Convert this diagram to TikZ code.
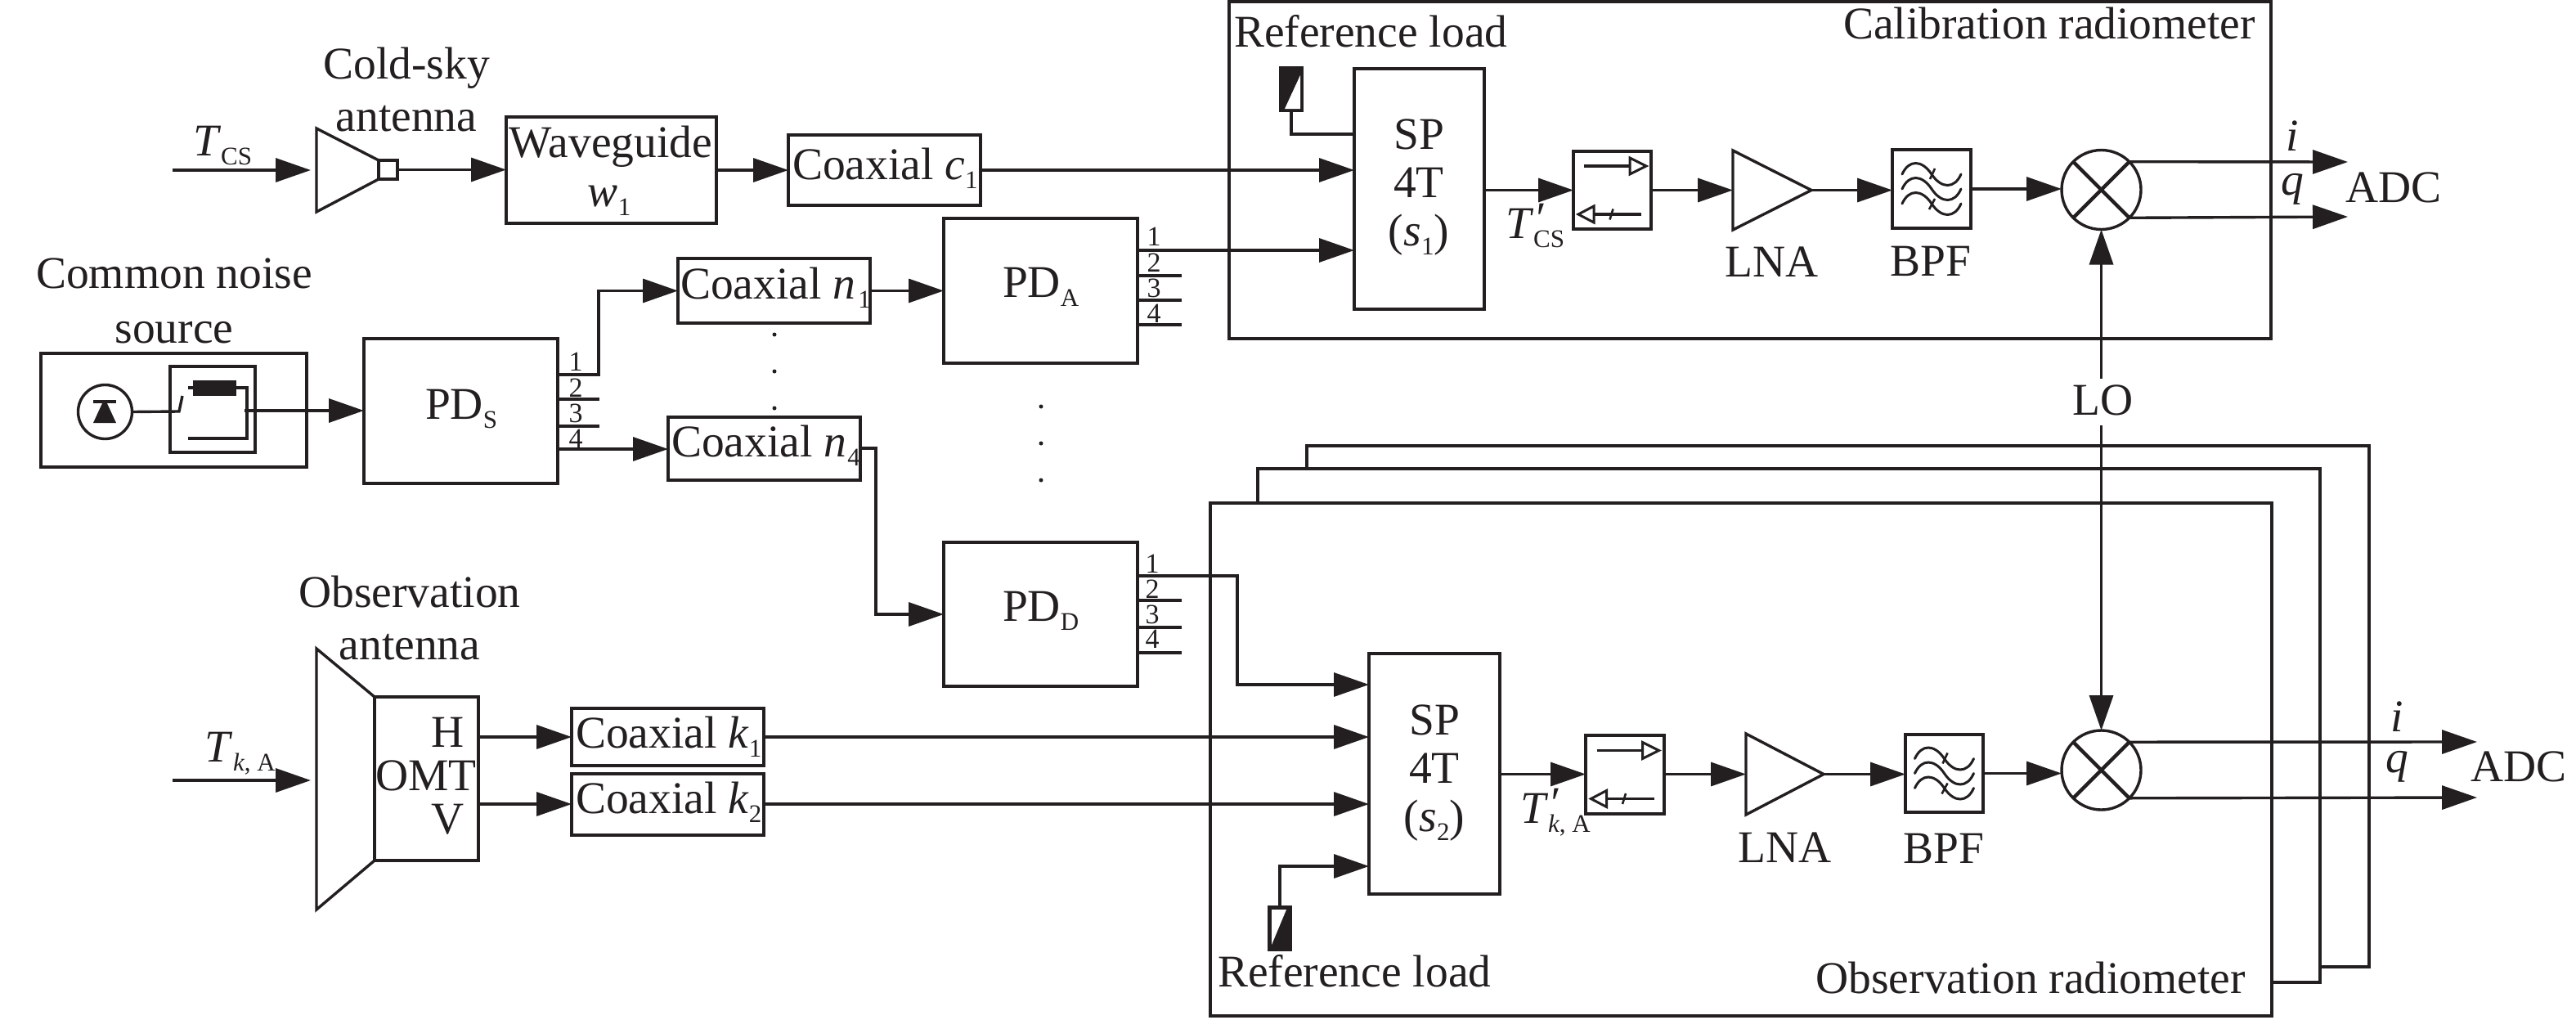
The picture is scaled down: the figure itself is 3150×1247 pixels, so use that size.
\documentclass[tikz,border=0pt]{standalone}
\usepackage{fontspec}
\setmainfont{Liberation Serif}
\usetikzlibrary{arrows.meta}
\definecolor{ink}{HTML}{231F20}
\newcommand{\mainsz}{\fontsize{55.5}{60}\selectfont}
\newcommand{\subsz}{\fontsize{31}{36}\selectfont}
\newcommand{\portsz}{\fontsize{34}{36}\selectfont}
\newcommand{\lowr}[1]{\raisebox{-11pt}{\subsz #1}}
\newcommand{\primed}[1]{\textit{T}\rlap{\raisebox{6pt}{\textit{′}}}\lowr{#1}}
\newcommand{\blockat}[5]{\node[blockbox,minimum width={(#4-#2)*1pt},minimum height={(#5-#3)*1pt}] (#1) at ({(#2+#4)/2},{(#3+#5)/2}) {};}
\tikzset{
 x=1pt,y=-1pt,
 line/.style={draw=ink,line width=3.4pt,line join=miter},
 blockbox/.style={line,rectangle,inner sep=0pt,outer sep=0pt},
 sig/.style={line,-{Triangle[length=43pt,width=29pt,fill=ink]}},
 plain/.style={line},
 lab/.style={anchor=base,inner sep=0pt,outer sep=0pt,text=ink,font=\mainsz},
 labw/.style={lab,anchor=base west},
 labe/.style={lab,anchor=base east},
 portlab/.style={anchor=base,inner sep=0pt,outer sep=0pt,text=ink,font=\portsz},
 mixer/.style={line,circle,minimum size=97pt,inner sep=0pt,outer sep=0pt},
 dotmark/.style={circle,fill=ink,minimum size=5pt,inner sep=0pt,outer sep=0pt},
 isosym/.pic={
  \draw[draw=ink,line width=3.2pt] (-34.5,-29.5)--(21.5,-29.5);
  \draw[draw=ink,line width=3pt,fill=white,line join=miter] (21.5,-39.5)--(21.5,-19.5)--(41.5,-29.5)--cycle;
  \draw[draw=ink,line width=3.2pt] (35.5,29.5)--(-22.5,29.5);
  \draw[draw=ink,line width=3pt,fill=white,line join=miter] (-22.5,19.5)--(-22.5,39.5)--(-41.5,29.5)--cycle;
  \draw[draw=ink,line width=2.6pt] (1,23)--(-3,36);
 },
 filtersym/.pic={
  \foreach \c in {-18,0,18}{
   \draw[draw=ink,line width=3pt,line cap=round] (-36,\c) .. controls (-28,\c-18) and (-12,\c-18) .. (0,\c) .. controls (12,\c+18) and (28,\c+18) .. (36,\c);
  }
  \draw[draw=ink,line width=2.6pt] (4,-25)--(-2,-12);
  \draw[draw=ink,line width=2.6pt] (4,12)--(-3,25);
 }
}
\begin{document}
\begin{tikzpicture}
\useasboundingbox (0,0) rectangle (3150,1247);
\fill[white] (0,0) rectangle (3150,1247);

% radiometer frames, back to front
\draw[line] (1598,573) -- (1598,545) -- (2897,545) -- (2897,1182) -- (2837,1182);
\draw[line] (1538,615) -- (1538,573) -- (2837,573) -- (2837,1201) -- (2778,1201);
\blockat{obs}{1480}{615}{2778}{1242}
\blockat{cal}{1503}{2}{2777}{414}

% cold-sky antenna chain
\draw[line] (387,157) -- (463,196) -- (463,219) -- (387,259) -- cycle;
\coordinate (tcsstart) at (211,208);
\coordinate (csatip) at (380,208);
\draw[sig] (tcsstart) -- (csatip);
\blockat{horn}{463}{196}{486}{219}
\blockat{wg}{619}{143}{876}{273}
\blockat{cc}{964}{165}{1199}{251}
\draw[sig] (horn.east) -- (horn.east -| wg.west);
\draw[sig] (wg.east) -- (wg.east -| cc.west);

% noise source
\blockat{noise}{50}{432}{375}{571}
\blockat{inner}{208}{448}{312}{553}
\node[line,circle,minimum size=66pt,inner sep=0pt,outer sep=0pt] (dio) at (128.5,503.5) {};
\fill[ink] (126,491) -- (130,491) -- (142,517) -- (114,517) -- cycle;
\draw[line] (114,491) -- (142,491);
\coordinate (sw) at (219,503);
\draw[plain] (dio.east) -- (sw) -- (223,484);
\draw[plain] (230,474) -- (236,474);
\fill[ink] (236,465) rectangle (289,484);
\draw[plain] (289,474) -- (302,474) -- (302,536) -- (230,536);
\coordinate (nout) at (299,502);

% power dividers
\blockat{pds}{445}{414}{682}{591}
\blockat{pda}{1154}{267}{1391}{444}
\blockat{pdd}{1154}{663}{1391}{839}
\draw[sig] (nout) -- (nout -| pds.west);

% PD_S ports
\coordinate (ps1) at (682,458); \coordinate (ps2) at (682,488);
\coordinate (ps3) at (682,521); \coordinate (ps4) at (682,549);
\draw[plain] (ps2) -- ++(51,0);
\draw[plain] (ps3) -- ++(51,0);
% coaxial n
\blockat{cn1}{829}{316}{1064}{395}
\blockat{cn4}{817}{510}{1052}{587}
\coordinate (ps1r) at (732,458);
\draw[sig] (ps1) -- (ps1r) |- (cn1.west);
\draw[sig] (ps4) -- (ps4 -| cn4.west);
\draw[sig] (cn1.east) -- (cn1.east -| pda.west);
\coordinate (cn4r) at (1071,548);
\draw[sig] (cn4r -| cn4.east) -- (cn4r) |- (pdd.west);
\node[dotmark] (d1) at (947,409) {};
\node[dotmark] (d2) at (947,454) {};
\node[dotmark] (d3) at (947,499) {};
\node[dotmark] (d4) at (1273,497) {};
\node[dotmark] (d5) at (1273,542) {};
\node[dotmark] (d6) at (1273,587) {};

% PD_A / PD_D ports
\coordinate (pa1) at (1391,306);
\draw[plain] (1391,337) -- (1445,337);
\draw[plain] (1391,367) -- (1445,367);
\draw[plain] (1391,397) -- (1445,397);
\coordinate (pd1) at (1391,704);
\draw[plain] (1391,734) -- (1445,734);
\draw[plain] (1391,767) -- (1445,767);
\draw[plain] (1391,798) -- (1445,798);

% calibration radiometer
\blockat{sa}{1656}{84}{1815}{378}
\draw[sig] (cc.east) -- (cc.east -| sa.west);
\draw[sig] (pa1) -- (pa1 -| sa.west);
\blockat{refa}{1566}{83}{1592}{135}
\fill[ink] (1566,83) rectangle (1592,135);
\fill[white] (1571,133) -- (1590,92) -- (1590,133) -- cycle;
\coordinate (sarefin) at (1656,164);
\draw[plain] (refa.south) |- (sarefin);
\blockat{isa}{1924}{185}{2019}{280}
\pic at (isa.center) {isosym};
\coordinate (lnaain) at (2119,232.5);
\coordinate (lnaaout) at (2215,232.5);
\draw[line] (2119,184) -- (lnaaout) -- (2119,281) -- cycle;
\blockat{bpa}{2314}{183}{2410}{279}
\pic at (bpa.center) {filtersym};
\node[mixer] (mxa) at (2569.5,232) {};
\draw[draw=ink,line width=4.4pt] (mxa.north west) -- (mxa.south east);
\draw[draw=ink,line width=4.4pt] (mxa.south west) -- (mxa.north east);
\coordinate (saout) at (1815,232.5);
\draw[sig] (saout) -- (saout -| isa.west);
\draw[sig] (isa.east |- saout) -- (lnaain);
\draw[sig] (lnaaout) -- (lnaaout -| bpa.west);
\draw[sig] (bpa.east) -- (bpa.east -| mxa.west);
\coordinate (itipa) at (2871,198);
\coordinate (qtipa) at (2871,265);
\draw[sig] (mxa.north east) -- (itipa);
\draw[sig] (mxa.south east) -- (qtipa);

% LO
\coordinate (lotop) at (2569.5,463);
\coordinate (lobot) at (2569.5,520);
\node[lab] (lo) at (2571.5,507) {LO};
\node[mixer] (mxb) at (2569.5,941.5) {};
\draw[draw=ink,line width=4.4pt] (mxb.north west) -- (mxb.south east);
\draw[draw=ink,line width=4.4pt] (mxb.south west) -- (mxb.north east);
\draw[sig] (lotop) -- (mxa.south);
\draw[sig] (lobot) -- (mxb.north);

% observation antenna
\draw[line] (387,793) -- (458,852) -- (458,1052) -- (387,1112) -- cycle;
\blockat{omt}{458}{852}{585}{1052}
\coordinate (tkstart) at (211,954);
\coordinate (oatip) at (380,954);
\draw[sig] (tkstart) -- (oatip);
\blockat{ck1}{699}{866}{934}{936}
\blockat{ck2}{699}{946}{934}{1021}
\coordinate (omth) at (585,901);
\coordinate (omtv) at (585,983);
\draw[sig] (omth) -- (omth -| ck1.west);
\draw[sig] (omtv) -- (omtv -| ck2.west);

% observation radiometer
\blockat{sb}{1674}{799}{1834}{1093}
\coordinate (pd1r) at (1513,704);
\coordinate (sbin1) at (1674,837);
\draw[sig] (pd1) -- (pd1r) |- (sbin1);
\draw[sig] (omth -| ck1.east) -- (omth -| sb.west);
\draw[sig] (omtv -| ck2.east) -- (omtv -| sb.west);
\blockat{refb}{1551.5}{1109}{1578.5}{1161}
\fill[ink] (1551.5,1109) rectangle (1578.5,1161);
\fill[white] (1555,1155) -- (1573,1112) -- (1555,1112) -- cycle;
\coordinate (sbin4) at (1674,1059);
\draw[sig] (refb.north) |- (sbin4);
\blockat{isb}{1939}{899}{2035}{995}
\pic at (isb.center) {isosym};
\coordinate (lnabin) at (2135,946.5);
\coordinate (lnabout) at (2230,946.5);
\draw[line] (2135,897) -- (lnabout) -- (2135,996) -- cycle;
\blockat{bpb}{2330}{898}{2425}{993}
\pic at (bpb.center) {filtersym};
\coordinate (sbout) at (1834,946.5);
\draw[sig] (sbout) -- (sbout -| isb.west);
\draw[sig] (isb.east |- sbout) -- (lnabin);
\draw[sig] (lnabout) -- (lnabout -| bpb.west);
\draw[sig] (bpb.east) -- (bpb.east -| mxb.west);
\coordinate (itipb) at (3029,907);
\coordinate (qtipb) at (3029,975);
\draw[sig] (mxb.north east) -- (itipb);
\draw[sig] (mxb.south east) -- (qtipb);

% texts
\node[lab] (tcold) at (497,96) {Cold-sky};
\node[lab] (tcolda) at (497,160) {antenna};
\node[labw] (ttcs) at (236,190) {\textit{T}\lowr{CS}};
\node[lab] (twg) at (747,192) {Waveguide};
\node[lab] (tw1) at (745,252) {\textit{w}\lowr{1}};
\node[labw] (tcc) at (969,219) {Coaxial \textit{c}\lowr{1}};
\node[lab] (tcn) at (213,352) {Common noise};
\node[lab] (tsrc) at (213,419) {source};
\node[labw] (tpds) at (520,512) {PD\lowr{S}};
\node[labw] (tpda) at (1226,363) {PD\lowr{A}};
\node[labw] (tpdd) at (1226,759) {PD\lowr{D}};
\node[labw] (tn1) at (832,365) {Coaxial \textit{n}\hspace{3pt}\lowr{1}};
\node[labw] (tn4) at (821,558) {Coaxial \textit{n}\hspace{1pt}\lowr{4}};
\node[lab] (tobs) at (501,742) {Observation};
\node[lab] (tobsa) at (501,806) {antenna};
\node[labw] (ttka) at (250,931) {\textit{T}\hspace{1pt}\lowr{\textit{k}, A}};
\node[lab] (th) at (548,913) {H};
\node[lab] (tomt) at (521,966) {OMT};
\node[lab] (tv) at (548,1019) {V};
\node[labw] (tk1) at (704,914) {Coaxial \textit{k}\lowr{1}};
\node[labw] (tk2) at (704,994) {Coaxial \textit{k}\lowr{2}};
\node[labw] (trefa) at (1509,58) {Reference load};
\node[labw] (tcal) at (2254,48) {Calibration radiometer};
\node[lab] (tspa) at (1735,182) {SP};
\node[lab] (t4ta) at (1735,241) {4T};
\node[lab] (ts1) at (1735,300) {(\textit{s}\lowr{1})};
\node[labw] (ttcsp) at (1841,291) {\primed{CS}};
\node[lab] (tlnaa) at (2167,338) {LNA};
\node[lab] (tbpa) at (2361,337) {BPF};
\node[lab] (tia) at (2803,184) {\textit{i}};
\node[lab] (tqa) at (2803,238) {\textit{q}};
\node[labw] (tadca) at (2868,247) {ADC};
\node[lab] (tspb) at (1754,898) {SP};
\node[lab] (t4tb) at (1754,957) {4T};
\node[lab] (ts2) at (1754,1016) {(\textit{s}\lowr{2})};
\node[labw] (ttkap) at (1859,1006) {\primed{\textit{k}, A}};
\node[lab] (tlnab) at (2183,1054) {LNA};
\node[lab] (tbpb) at (2377,1055) {BPF};
\node[lab] (tib) at (2931,894) {\textit{i}};
\node[lab] (tqb) at (2931,944) {\textit{q}};
\node[labw] (tadcb) at (3021,955) {ADC};
\node[labw] (trefb) at (1489,1206) {Reference load};
\node[labe] (tobr) at (2746,1214) {Observation radiometer};

% port numbers
\foreach \n/\px/\py in {1/704/453,2/704/485,3/704/516,4/704/547}{\node[portlab] (psn\n) at (\px,\py) {\n};}
\foreach \n/\px/\py in {1/1411/300.5,2/1411/332,3/1411/363,4/1411/394}{\node[portlab] (pan\n) at (\px,\py) {\n};}
\foreach \n/\px/\py in {1/1409/700,2/1409/731,3/1409/762,4/1409/792}{\node[portlab] (pdn\n) at (\px,\py) {\n};}
\end{tikzpicture}
\end{document}
